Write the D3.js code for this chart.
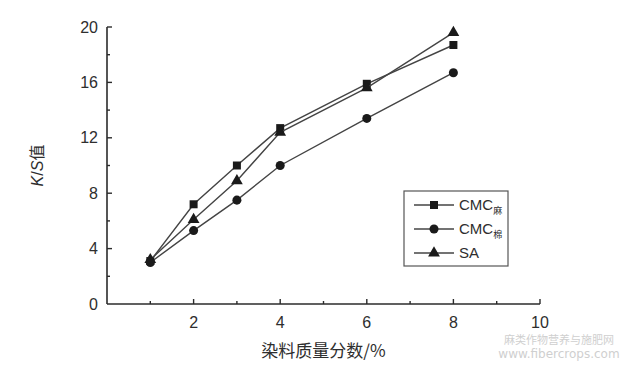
<!DOCTYPE html>
<html>
<head>
<meta charset="utf-8">
<script src="https://cdn.jsdelivr.net/npm/d3@7"></script>
<style>
  body { margin: 0; background: #fff; }
  text { font-family: "Liberation Sans Narrow", "Liberation Sans", Arial, sans-serif; fill: #2e2e2e; }
</style>
</head>
<body>
<svg width="623" height="366"></svg>
<script>
// 数据
let dosage = [1, 2, 3, 4, 6, 8];
let cmcMa = [3.1, 7.2, 10.0, 12.7, 15.9, 18.7];
let cmcMian = [3.0, 5.3, 7.5, 10.0, 13.4, 16.7];
let sa = [3.2, 6.1, 8.9, 12.4, 15.6, 19.6];
let xTicks = [2, 4, 6, 8, 10];
let yTicks = [0, 4, 8, 12, 16, 20];

let series = [
  { name: "CMC", sub: "麻", values: cmcMa, shape: d3.symbolSquare },
  { name: "CMC", sub: "棉", values: cmcMian, shape: d3.symbolCircle },
  { name: "SA", sub: "", values: sa, shape: d3.symbolTriangle }
];

let svg = d3.select("svg"),
    margin = { left: 107, right: 83, top: 27, bottom: 62 },
    width = 623 - margin.left - margin.right,
    height = 366 - margin.top - margin.bottom,
    g = svg.append("g").attr("transform", "translate(" + margin.left + "," + margin.top + ")");

let x = d3.scaleLinear().domain([0, 10]).range([0, width]);
let y = d3.scaleLinear().domain([0, 20]).range([height, 0]);

let ink = "#2b2b2b";

// x as: kleine ticks naar binnen
let xAxis = g.append("g").attr("transform", "translate(0," + height + ")");
xAxis.append("line").attr("x1", 0).attr("x2", width).attr("stroke", ink).attr("stroke-width", 1.6);
xAxis.selectAll(".tick")
  .data(d3.range(1, 11))
  .enter().append("line")
  .attr("x1", d => x(d)).attr("x2", d => x(d))
  .attr("y1", 0).attr("y2", d => d % 2 === 0 ? -5 : -3)
  .attr("stroke", ink).attr("stroke-width", 1.4);
xAxis.selectAll(".lbl")
  .data(xTicks)
  .enter().append("text")
  .attr("x", d => x(d)).attr("y", 24)
  .attr("text-anchor", "middle")
  .style("font-size", "16px")
  .text(d => d);

// y as
let yAxis = g.append("g");
yAxis.append("line").attr("y1", 0).attr("y2", height).attr("stroke", ink).attr("stroke-width", 1.6);
yAxis.selectAll(".tick")
  .data(d3.range(2, 21, 2))
  .enter().append("line")
  .attr("y1", d => y(d)).attr("y2", d => y(d))
  .attr("x1", 0).attr("x2", d => d % 4 === 0 ? 5 : 3)
  .attr("stroke", ink).attr("stroke-width", 1.4);
yAxis.selectAll(".lbl")
  .data(yTicks)
  .enter().append("text")
  .attr("x", -9).attr("y", d => y(d)).attr("dy", "0.35em")
  .attr("text-anchor", "end")
  .style("font-size", "16px")
  .text(d => d);

// lijnen en markers
let line = d3.line().x((d, i) => x(dosage[i])).y(d => y(d));
let sg = g.selectAll(".series").data(series).enter().append("g");
sg.append("path")
  .attr("d", d => line(d.values))
  .attr("fill", "none").attr("stroke", "#444").attr("stroke-width", 1.4);
sg.selectAll("path.mark")
  .data(d => d.values.map(v => ({ v: v, shape: d.shape })))
  .enter().append("path")
  .attr("class", "mark")
  .attr("transform", (d, i) => "translate(" + x(dosage[i]) + "," + y(d.v) + ")")
  .attr("d", d => d3.symbol().type(d.shape).size(d.shape === d3.symbolTriangle ? 60 : 64)())
  .attr("fill", "#1a1a1a");

// legenda
let legend = svg.append("g").attr("transform", "translate(404,191)");
legend.append("rect").attr("width", 104).attr("height", 75)
  .attr("fill", "#fff").attr("stroke", "#555").attr("stroke-width", 1.2);
let item = legend.selectAll(".item").data(series).enter().append("g")
  .attr("transform", (d, i) => "translate(0," + (14 + i * 24) + ")");
item.append("line").attr("x1", 10).attr("x2", 50).attr("stroke", "#444").attr("stroke-width", 1.4);
item.append("path")
  .attr("transform", "translate(30,0)")
  .attr("d", d => d3.symbol().type(d.shape).size(d.shape === d3.symbolTriangle ? 60 : 64)())
  .attr("fill", "#1a1a1a");
let lt = item.append("text").attr("x", 55).attr("dy", "0.36em").style("font-size", "15px");
lt.append("tspan").text(d => d.name);
lt.append("tspan").attr("dy", "4").style("font-size", "9px")
  .style("font-family", "'Noto Sans CJK SC', sans-serif").text(d => d.sub);

// as titels
svg.append("text")
  .attr("transform", "translate(43," + (margin.top + y(10)) + ") rotate(-90)")
  .attr("text-anchor", "middle")
  .style("font-size", "16px")
  .html("<tspan font-style='italic'>K</tspan>/<tspan font-style='italic'>S</tspan><tspan style=\"font-family:'Noto Sans CJK SC'\">值</tspan>");

svg.append("text")
  .attr("x", margin.left + x(5)).attr("y", 357)
  .attr("text-anchor", "middle")
  .style("font-size", "17px")
  .style("font-family", "'Noto Sans CJK SC', sans-serif")
  .text("染料质量分数/%");

// watermerk
let wm = svg.append("g").attr("text-anchor", "middle");
wm.append("text").attr("x", 559).attr("y", 344).style("font-size", "11px")
  .style("fill", "#cfcfcf").style("font-family", "'Noto Sans CJK SC', sans-serif").text("麻类作物营养与施肥网");
wm.append("text").attr("x", 559).attr("y", 358).style("font-size", "12px")
  .style("fill", "#cfcfcf").style("font-family", "'DejaVu Sans', sans-serif").text("www.fibercrops.com");
</script>
</body>
</html>
